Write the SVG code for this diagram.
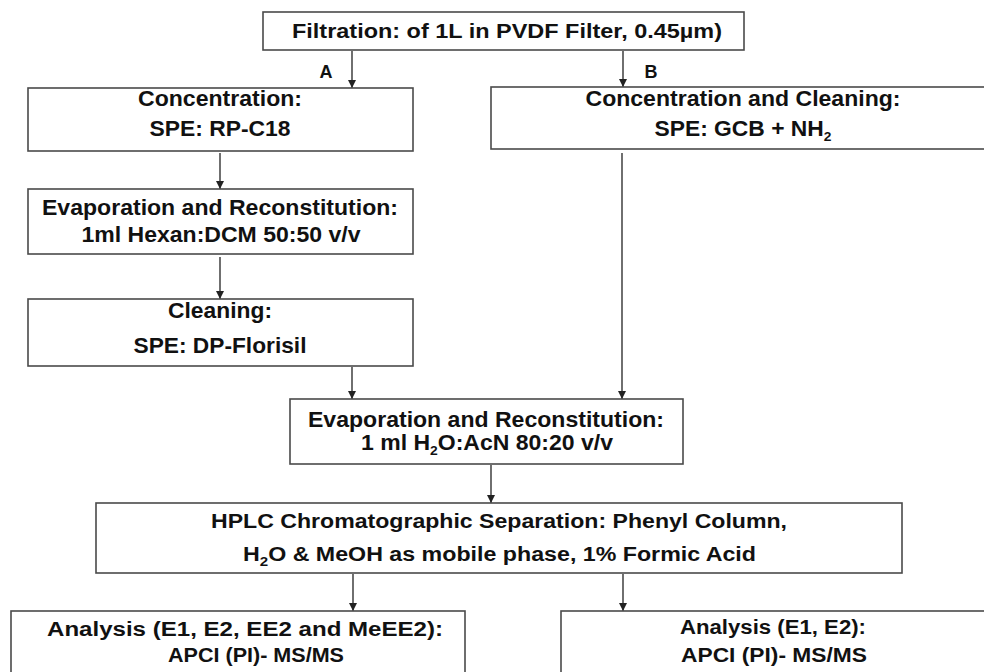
<svg xmlns="http://www.w3.org/2000/svg" width="984" height="672" viewBox="0 0 984 672">
<defs>
<style>
.box{fill:#fff;stroke:#4a4a4a;stroke-width:1.6}
.t{font-family:"Liberation Sans",Arial,sans-serif;font-weight:bold;fill:#111;text-anchor:middle}
.f21{font-size:21.5px}
.f20{font-size:20.5px}
.f19{font-size:20px}
.f18{font-size:19.5px}
.lbl{font-size:18px}
.sub{font-size:13px}
.ln{stroke:#333;stroke-width:1.4;fill:none}
</style>
<marker id="ah" viewBox="0 0 10 10" refX="10" refY="5" markerWidth="8" markerHeight="8" markerUnits="userSpaceOnUse" orient="auto">
<path d="M0,0 L10,5 L0,10 Z" fill="#222"/>
</marker>
</defs>
<rect width="984" height="672" fill="#fff"/>

<g id="connectors">
<line class="ln" x1="352" y1="51" x2="352" y2="88" marker-end="url(#ah)"/>
<line class="ln" x1="623" y1="51" x2="623" y2="87" marker-end="url(#ah)"/>
<line class="ln" x1="220" y1="153" x2="220" y2="189" marker-end="url(#ah)"/>
<line class="ln" x1="220" y1="257" x2="220" y2="299" marker-end="url(#ah)"/>
<line class="ln" x1="352" y1="367" x2="352" y2="399" marker-end="url(#ah)"/>
<line class="ln" x1="622" y1="153" x2="622" y2="399" marker-end="url(#ah)"/>
<line class="ln" x1="491" y1="465" x2="491" y2="503" marker-end="url(#ah)"/>
<line class="ln" x1="353" y1="574" x2="353" y2="611" marker-end="url(#ah)"/>
<line class="ln" x1="623" y1="574" x2="623" y2="611" marker-end="url(#ah)"/>
<text class="t lbl" x="326" y="78">A</text>
<text class="t lbl" x="651" y="78">B</text>
</g>

<g id="filtration">
<rect class="box" x="263" y="12" width="481" height="38"/>
<text class="t f20" x="507" y="38" textLength="430" lengthAdjust="spacingAndGlyphs">Filtration: of 1L in PVDF Filter, 0.45µm)</text>
</g>

<g id="concA">
<rect class="box" x="28" y="88" width="385" height="63"/>
<text class="t f21" x="220" y="106" textLength="164" lengthAdjust="spacingAndGlyphs">Concentration:</text>
<text class="t f21" x="220" y="136" textLength="141" lengthAdjust="spacingAndGlyphs">SPE: RP-C18</text>
</g>

<g id="concB">
<rect class="box" x="491" y="87" width="510" height="62"/>
<text class="t f21" x="743" y="106" textLength="315" lengthAdjust="spacingAndGlyphs">Concentration and Cleaning:</text>
<text class="t f21" x="743" y="136" textLength="177" lengthAdjust="spacingAndGlyphs">SPE: GCB + NH<tspan class="sub" dy="5">2</tspan></text>
</g>

<g id="evapA">
<rect class="box" x="28" y="189" width="385" height="65"/>
<text class="t f21" x="220" y="215" textLength="356" lengthAdjust="spacingAndGlyphs">Evaporation and Reconstitution:</text>
<text class="t f21" x="221" y="242" textLength="279" lengthAdjust="spacingAndGlyphs">1ml Hexan:DCM 50:50 v/v</text>
</g>

<g id="cleaning">
<rect class="box" x="28" y="299" width="385" height="67"/>
<text class="t f21" x="220" y="318" textLength="104" lengthAdjust="spacingAndGlyphs">Cleaning:</text>
<text class="t f21" x="220" y="353" textLength="173" lengthAdjust="spacingAndGlyphs">SPE: DP-Florisil</text>
</g>

<g id="evap2">
<rect class="box" x="290" y="399" width="393" height="65"/>
<text class="t f21" x="486" y="427" textLength="356" lengthAdjust="spacingAndGlyphs">Evaporation and Reconstitution:</text>
<text class="t f21" x="487" y="450" textLength="252" lengthAdjust="spacingAndGlyphs">1 ml H<tspan class="sub" dy="5">2</tspan><tspan dy="-5">O:AcN 80:20 v/v</tspan></text>
</g>

<g id="hplc">
<rect class="box" x="96" y="503" width="806" height="70"/>
<text class="t f19" x="499" y="528" textLength="576" lengthAdjust="spacingAndGlyphs">HPLC Chromatographic Separation: Phenyl Column,</text>
<text class="t f19" x="499.5" y="561" textLength="513" lengthAdjust="spacingAndGlyphs">H<tspan class="sub" dy="5">2</tspan><tspan dy="-5">O &amp; MeOH as mobile phase, 1% Formic Acid</tspan></text>
</g>

<g id="analysisL">
<rect class="box" x="11" y="611" width="454" height="90"/>
<text class="t f18" x="245" y="636" textLength="396" lengthAdjust="spacingAndGlyphs">Analysis (E1, E2, EE2 and MeEE2):</text>
<text class="t f18" x="256" y="662" textLength="176" lengthAdjust="spacingAndGlyphs">APCI (PI)- MS/MS</text>
</g>

<g id="analysisR">
<rect class="box" x="561" y="611" width="440" height="90"/>
<text class="t f18" x="773" y="634" textLength="186" lengthAdjust="spacingAndGlyphs">Analysis (E1, E2):</text>
<text class="t f18" x="774" y="662" textLength="186" lengthAdjust="spacingAndGlyphs">APCI (PI)- MS/MS</text>
</g>
</svg>
